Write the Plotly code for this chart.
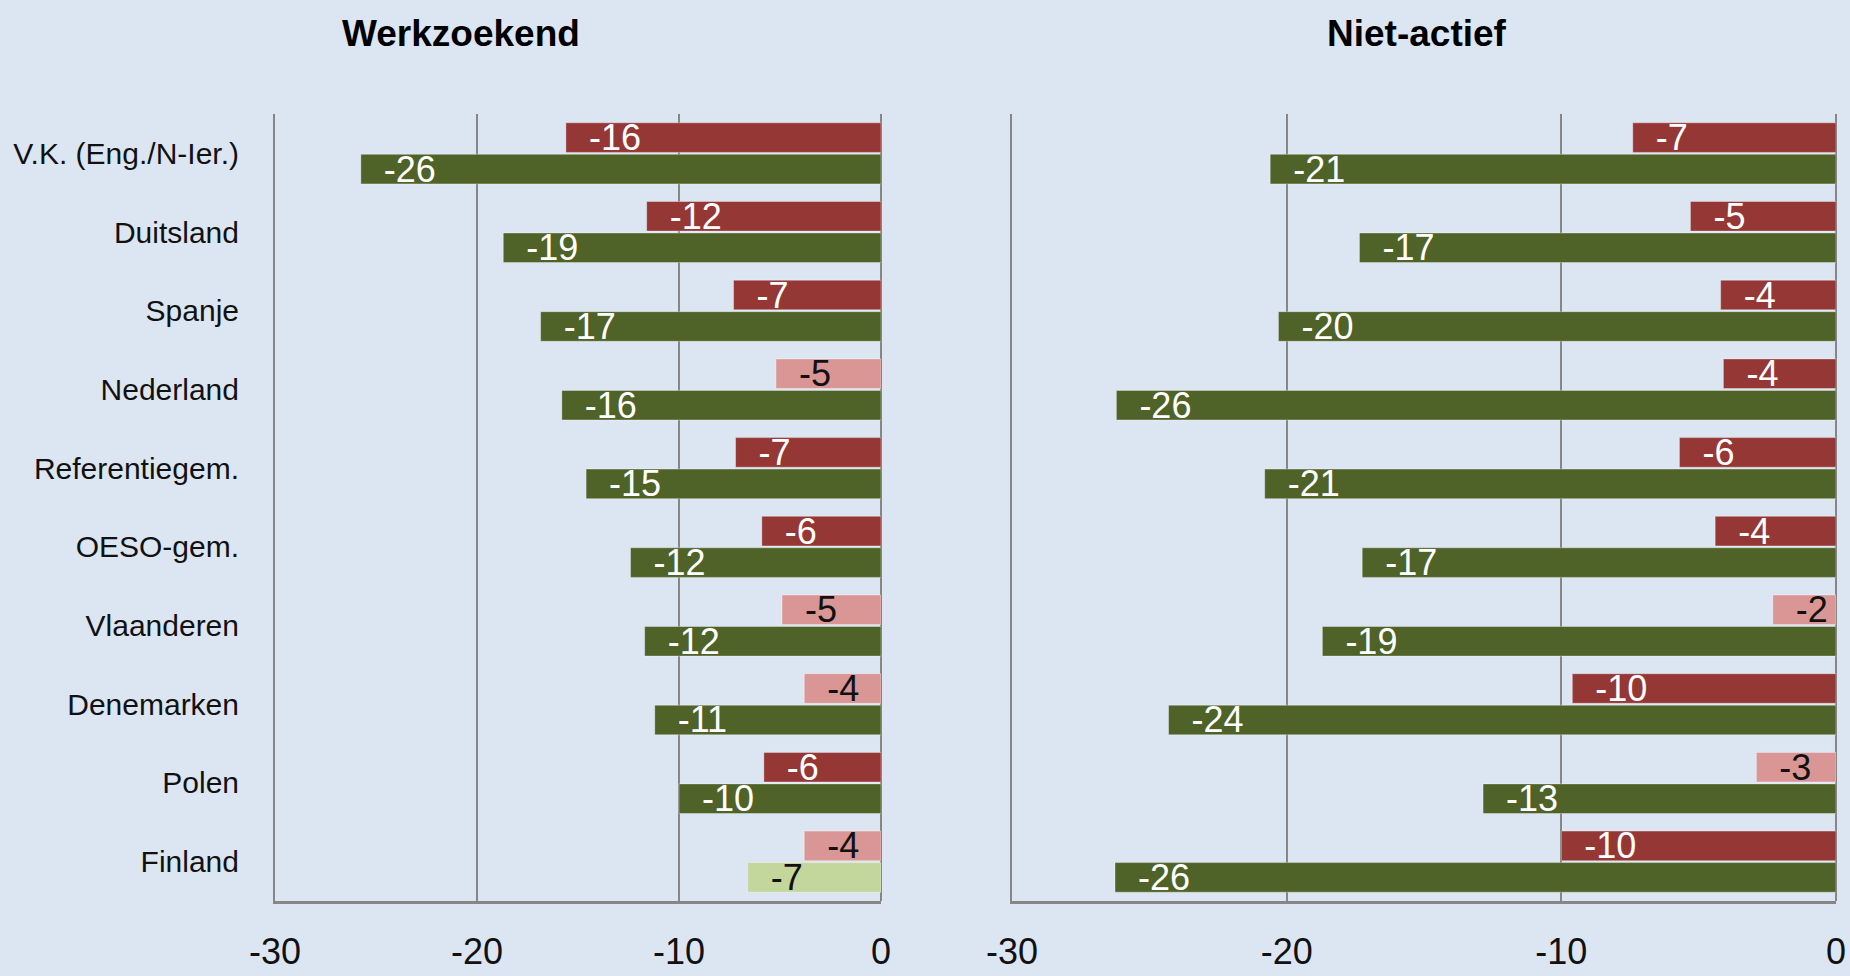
import plotly.graph_objects as go

# ---------------- data ----------------
categories = ["V.K. (Eng./N-Ier.)", "Duitsland", "Spanje", "Nederland", "Referentiegem.",
              "OESO-gem.", "Vlaanderen", "Denemarken", "Polen", "Finland"]

# Werkzoekend panel
werk_red = [-15.6, -11.6, -7.3, -5.2, -7.2, -5.9, -4.9, -3.8, -5.8, -3.8]
werk_green = [-25.75, -18.7, -16.85, -15.8, -14.6, -12.4, -11.7, -11.2, -10.0, -6.6]
werk_red_sig = [True, True, True, False, True, True, False, False, True, False]
werk_green_sig = [True, True, True, True, True, True, True, True, True, False]

# Niet-actief panel
niet_red = [-7.4, -5.3, -4.2, -4.1, -5.7, -4.4, -2.3, -9.6, -2.9, -10.0]
niet_green = [-20.6, -17.35, -20.3, -26.2, -20.8, -17.25, -18.7, -24.3, -12.85, -26.25]
niet_red_sig = [True, True, True, True, True, True, False, True, False, True]
niet_green_sig = [True] * 10

x_ticks = [-30, -20, -10, 0]
titles = ["Werkzoekend", "Niet-actief"]

# ---------------- style ----------------
BG = "#DCE6F2"
RED, PINK = "#953735", "#D99694"
GREEN, LGREEN = "#4F6228", "#C3D69B"
GRID = "#868686"
FONT = "Liberation Sans, Arial, sans-serif"
NB = "\u00a0\u00a0"

fig = go.Figure()


def add_series(vals, sig, dark, light, xa, ya, name):
    colors = [dark if s else light for s in sig]
    tcolors = ["white" if s else "#111111" for s in sig]
    fig.add_trace(go.Bar(
        y=categories, x=vals, orientation="h", name=name,
        marker=dict(color=colors, line=dict(width=1, color="rgba(255,255,255,0.35)")),
        text=[NB + f"{v:.0f}" for v in vals],
        textposition="inside", insidetextanchor="end", textangle=0,
        constraintext="none",
        textfont=dict(family=FONT, size=36, color=tcolors),
        xaxis=xa, yaxis=ya, showlegend=False, hoverinfo="x+y",
    ))


add_series(werk_red, werk_red_sig, RED, PINK, "x", "y", "werk_red")
add_series(werk_green, werk_green_sig, GREEN, LGREEN, "x", "y", "werk_green")
add_series(niet_red, niet_red_sig, RED, PINK, "x2", "y2", "niet_red")
add_series(niet_green, niet_green_sig, GREEN, LGREEN, "x2", "y2", "niet_green")

W, H = 1850, 976
ydom = [1 - 901 / H, 1 - 114 / H]

xcommon = dict(range=[-30, 0], tickvals=x_ticks, ticktext=[str(t) for t in x_ticks],
               showgrid=True, gridcolor=GRID, gridwidth=2,
               zeroline=True, zerolinecolor=GRID, zerolinewidth=2,
               showline=True, linecolor=GRID, linewidth=3,
               tickfont=dict(family=FONT, size=36, color="#111111"),
               ticks="", ticklabelstandoff=17, fixedrange=True, automargin=False)
ycommon = dict(autorange="reversed", domain=ydom, showgrid=False, zeroline=False,
               showline=True, linecolor=GRID, linewidth=2, ticks="", fixedrange=True,
               automargin=False)

fig.update_layout(
    width=W, height=H,
    paper_bgcolor=BG, plot_bgcolor=BG,
    margin=dict(l=0, r=0, t=0, b=0, pad=0),
    barmode="group", bargap=0.2, bargroupgap=0.06,
    xaxis=dict(domain=[275 / W, 881 / W], anchor="y", **xcommon),
    xaxis2=dict(domain=[1012 / W, 1836 / W], anchor="y2", **xcommon),
    yaxis=dict(anchor="x", showticklabels=True, ticklabelstandoff=28,
               tickfont=dict(family=FONT, size=30, color="#111111"), **ycommon),
    yaxis2=dict(anchor="x2", showticklabels=False, **ycommon),
    annotations=[
        dict(text=f"<b>{titles[0]}</b>", x=461 / W, y=1 - 33 / H, xref="paper", yref="paper",
             xanchor="center", yanchor="middle", showarrow=False,
             font=dict(family=FONT, size=37, color="#000000")),
        dict(text=f"<b>{titles[1]}</b>", x=1417 / W, y=1 - 33 / H, xref="paper", yref="paper",
             xanchor="center", yanchor="middle", showarrow=False,
             font=dict(family=FONT, size=37, color="#000000")),
    ],
)

fig.write_html("out.html", config={"displayModeBar": False},
               post_script="document.body.style.margin='0';document.body.style.overflow='hidden';")
